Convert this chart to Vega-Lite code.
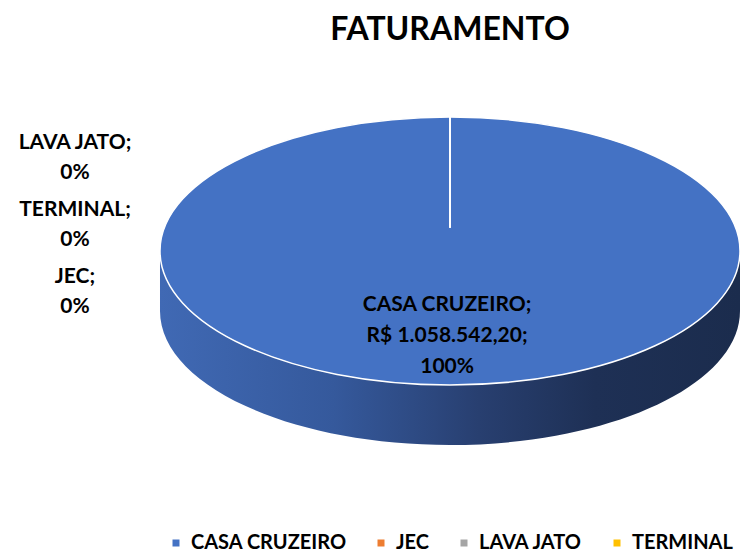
{
  "$schema": "https://vega.github.io/schema/vega-lite/v6.json",
  "width": 740,
  "height": 556,
  "padding": 0,
  "autosize": {"type": "none"},
  "background": "white",
  "config": {"view": {"stroke": null}, "font": "Lato"},
  "title": {"text": "FATURAMENTO", "anchor": "middle", "dx": 80, "offset": -79, "baseline": "bottom", "fontSize": 32, "font": "Lato", "fontWeight": "bold", "color": "#000000"},
  "data": {"values": [
    {"categoria": "CASA CRUZEIRO", "valor": 1058542.20, "rotulo": "CASA CRUZEIRO;\nR$ 1.058.542,20;\n100%"},
    {"categoria": "JEC", "valor": 0, "rotulo": "JEC;\n0%"},
    {"categoria": "LAVA JATO", "valor": 0, "rotulo": "LAVA JATO;\n0%"},
    {"categoria": "TERMINAL", "valor": 0, "rotulo": "TERMINAL;\n0%"}
  ]},
  "resolve": {"scale": {"y": "independent"}},
  "layer": [
    {
      "transform": [{"filter": "datum.valor > 0"}],
      "mark": {"type": "point", "shape": "M -1 0 L -1 0.207 A 1 0.462 0 0 0 1 0.207 L 1 0 A 1 0.462 0 0 1 -1 0 Z", "size": 336400, "filled": true, "opacity": 1, "strokeWidth": 0,
        "fill": {"gradient": "linear", "x1": 0, "x2": 1, "y1": 0, "y2": 0, "stops": [
          {"offset": 0, "color": "#4069B4"},
          {"offset": 0.3, "color": "#35599C"},
          {"offset": 0.55, "color": "#283F70"},
          {"offset": 0.75, "color": "#1E3055"},
          {"offset": 1, "color": "#1B2C4D"}
        ]}},
      "encoding": {
        "x": {"datum": 0, "type": "quantitative", "scale": {"domain": [-1.5517, 1.0], "nice": false, "zero": false}, "axis": null},
        "y": {"datum": 0, "type": "quantitative", "scale": {"domain": [-2.276, 1.873], "nice": false, "zero": false}, "axis": null}
      }
    },
    {
      "transform": [{"filter": "datum.valor > 0"}],
      "mark": {"type": "point", "shape": "M -1 0 A 1 0.462 0 1 0 1 0 A 1 0.462 0 1 0 -1 0 Z", "size": 336400, "filled": true, "opacity": 1, "stroke": "white", "strokeWidth": 1.5},
      "encoding": {
        "x": {"datum": 0, "type": "quantitative", "scale": {"domain": [-1.5517, 1.0], "nice": false, "zero": false}, "axis": null},
        "y": {"datum": 0, "type": "quantitative", "scale": {"domain": [-2.276, 1.873], "nice": false, "zero": false}, "axis": null},
        "color": {"field": "categoria", "type": "nominal",
          "scale": {"domain": ["CASA CRUZEIRO", "JEC", "LAVA JATO", "TERMINAL"], "range": ["#4472C4", "#ED7D31", "#A5A5A5", "#FFC000"]},
          "legend": {"title": null, "orient": "none", "legendX": 166, "legendY": 533, "direction": "horizontal", "symbolType": "square", "symbolSize": 49, "symbolStrokeWidth": 0, "symbolOpacity": 1, "labelFontSize": 20, "labelFont": "Lato", "labelFontWeight": "bold", "labelColor": "#000000", "labelOffset": 5, "columnPadding": 24, "labelLimit": 300, "padding": 0}}
      }
    },
    {
      "transform": [{"filter": "datum.valor > 0"}],
      "mark": {"type": "rule", "color": "white", "strokeWidth": 2},
      "encoding": {
        "x": {"datum": 0, "type": "quantitative", "scale": {"domain": [-1.5517, 1.0], "nice": false, "zero": false}, "axis": null},
        "y": {"datum": 0.172, "type": "quantitative", "scale": {"domain": [-2.276, 1.873], "nice": false, "zero": false}, "axis": null},
        "y2": {"datum": 1.0}
      }
    },
    {
      "transform": [{"filter": "datum.valor > 0"}],
      "mark": {"type": "text", "lineBreak": "\n", "align": "center", "baseline": "middle", "fontSize": 21, "font": "Lato", "fontWeight": "bold", "color": "#000000", "lineHeight": 31},
      "encoding": {
        "x": {"datum": -0.01, "type": "quantitative", "scale": {"domain": [-1.5517, 1.0], "nice": false, "zero": false}, "axis": null},
        "y": {"datum": -0.403, "type": "quantitative", "scale": {"domain": [-2.276, 1.873], "nice": false, "zero": false}, "axis": null},
        "text": {"field": "rotulo"}
      }
    },
    {
      "transform": [{"filter": "datum.valor == 0"}],
      "mark": {"type": "text", "lineBreak": "\n", "align": "center", "baseline": "middle", "fontSize": 21, "font": "Lato", "fontWeight": "bold", "color": "#000000", "lineHeight": 30},
      "encoding": {
        "x": {"datum": -1.293, "type": "quantitative", "scale": {"domain": [-1.5517, 1.0], "nice": false, "zero": false}, "axis": null},
        "y": {"field": "categoria", "type": "nominal", "scale": {"type": "point", "domain": ["LAVA JATO", "TERMINAL", "JEC"], "range": [143, 277], "padding": 0}, "axis": null},
        "text": {"field": "rotulo"}
      }
    }
  ]
}
